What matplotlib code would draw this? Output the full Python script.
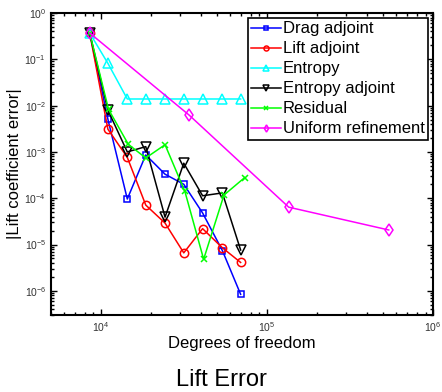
import matplotlib
matplotlib.use("Agg")
import matplotlib.pyplot as plt
from matplotlib.ticker import LogLocator, NullFormatter

plt.rcParams['font.family'] = ['Liberation Sans', 'DejaVu Sans']
plt.rcParams['mathtext.default'] = 'regular'

# Data
dof = [8550, 11000, 14400, 18600, 24300, 31500, 40900, 53800, 69300]
dof_res = [8550, 11100, 14600, 18600, 24300, 32000, 41500, 55000, 73400]
drag_adj = [0.37, 5.1e-3, 9.6e-5, 8.6e-4, 3.3e-4, 2.0e-4, 4.8e-5, 7.4e-6, 8.4e-7]
lift_adj = [0.37, 3.1e-3, 7.6e-4, 7.1e-5, 2.9e-5, 6.6e-6, 2.2e-5, 8.5e-6, 4.1e-6]
entropy = [0.37, 0.082, 0.0139, 0.0139, 0.0139, 0.0139, 0.0139, 0.0139, 0.0139]
entropy_adj = [0.37, 8.0e-3, 1.0e-3, 1.3e-3, 3.9e-5, 5.7e-4, 1.13e-4, 1.3e-4, 7.6e-6]
residual = [0.37, 8.3e-3, 1.46e-3, 7.4e-4, 1.43e-3, 1.4e-4, 4.8e-6, 1.17e-4, 2.8e-4]
dof_uniform = [8550, 34000, 135000, 540000]
uniform = [0.37, 6.2e-3, 6.4e-5, 2.06e-5]

labels = ["Drag adjoint", "Lift adjoint", "Entropy", "Entropy adjoint",
          "Residual", "Uniform refinement"]

fig = plt.figure(figsize=(4.42, 3.92), dpi=100)
ax = fig.add_axes([0.1154, 0.1964, 0.8646, 0.7704])

lw = 1.1
ax.loglog(dof, drag_adj, '-s', color='#0000ff', lw=lw, ms=5, mfc='none', mew=1.1, label=labels[0])
ax.loglog(dof, lift_adj, '-o', color='#ff0000', lw=lw, ms=6, mfc='none', mew=1.1, label=labels[1])
ax.loglog(dof, entropy, '-^', color='#00ffff', lw=lw, ms=7, mfc='none', mew=1.1, label=labels[2])
ax.loglog(dof, entropy_adj, '-v', color='#000000', lw=lw, ms=7, mfc='none', mew=1.1, label=labels[3])
ax.loglog(dof_res, residual, '-x', color='#00ff00', lw=lw, ms=4, mew=1.1, label=labels[4])
ax.loglog(dof_uniform, uniform, '-d', color='#ff00ff', lw=lw, ms=6, mfc='none', mew=1.1, label=labels[5])

ax.set_xlim(5000, 1e6)
ax.set_ylim(3e-7, 1)

ax.xaxis.set_major_locator(LogLocator(base=10, numticks=10))
ax.xaxis.set_minor_locator(LogLocator(base=10, subs=range(2, 10), numticks=20))
ax.yaxis.set_major_locator(LogLocator(base=10, numticks=10))
ax.yaxis.set_minor_locator(LogLocator(base=10, subs=range(2, 10), numticks=20))
ax.xaxis.set_minor_formatter(NullFormatter())
ax.yaxis.set_minor_formatter(NullFormatter())

ax.tick_params(which='both', direction='in', top=True, right=True, labelsize=7.5,
               width=1, labelcolor='#333333')
ax.tick_params(which='major', length=4)
ax.tick_params(which='minor', length=2)
for s in ax.spines.values():
    s.set_linewidth(1.5)

ax.set_xlabel("Degrees of freedom", fontsize=12, labelpad=2)
ax.set_ylabel("|Lift coefficient error|", fontsize=12, labelpad=2)

leg = ax.legend(loc='upper right', fontsize=12, frameon=True, fancybox=False,
                edgecolor='black', framealpha=1, borderaxespad=0.3,
                handlelength=1.8, handletextpad=0.12, labelspacing=0.3,
                borderpad=0.2, markerscale=0.6)
leg.get_frame().set_linewidth(1.2)

fig.text(0.5, 1 - 380 / 392, "Lift Error", ha='center', va='center', fontsize=17)

fig.savefig("out.png", dpi=100)
